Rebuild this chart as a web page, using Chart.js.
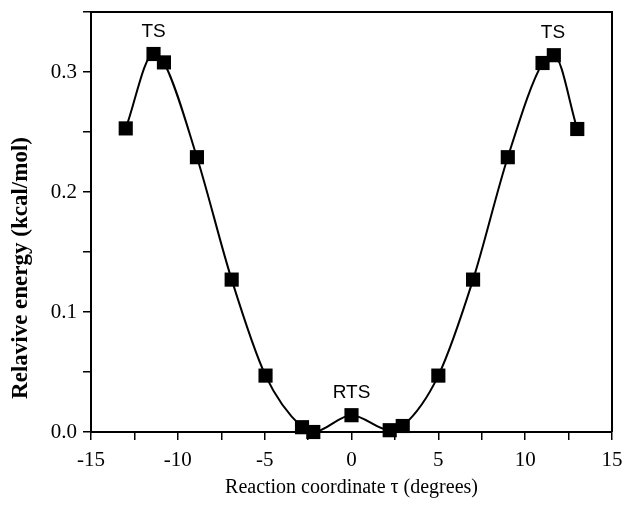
<!DOCTYPE html>
<html>
<head>
<meta charset="utf-8">
<script src="https://cdn.jsdelivr.net/npm/chart.js@4/dist/chart.umd.min.js"></script>
<style>
  html, body { margin: 0; padding: 0; background: #fff; }
  canvas { display: block; }
</style>
</head>
<body>
<canvas id="c" width="625" height="507"></canvas>
<script>
// Data
const tau = [-13.0, -11.4, -10.8, -8.9, -6.9, -4.95, -2.85, -2.2, 0.0, 2.2, 2.95, 5.0, 7.0, 9.0, 11.0, 11.65, 13.0];
const energy = [0.253, 0.315, 0.308, 0.229, 0.127, 0.047, 0.004, 0.0, 0.014, 0.0015, 0.005, 0.047, 0.127, 0.229, 0.3075, 0.314, 0.2525];
const labelText = ['TS', 'RTS', 'TS'];
const labelX = [-11.4, 0.0, 11.6];
const labelY = [0.315, 0.014, 0.314];
const xTickValues = [-15, -10, -5, 0, 5, 10, 15];
const yTickValues = [0.0, 0.1, 0.2, 0.3];
const xTitle = 'Reaction coordinate τ (degrees)';
const yTitle = 'Relavive energy (kcal/mol)';

const serif = "'Liberation Serif', 'Times New Roman', serif";
const sans = "'Liberation Sans', Arial, sans-serif";

function zeroPad(s) {
  s.paddingTop = 0; s.paddingBottom = 0; s.paddingLeft = 0; s.paddingRight = 0;
}

const boxPlugin = {
  id: 'box',
  afterDraw(chart) {
    const {ctx, chartArea: a} = chart;
    ctx.save();
    ctx.strokeStyle = '#000';
    ctx.lineWidth = 2;
    ctx.beginPath();
    ctx.moveTo(a.left, a.top);
    ctx.lineTo(a.right, a.top);
    ctx.lineTo(a.right, a.bottom);
    ctx.stroke();
    ctx.restore();
  }
};

// y-axis title, placed slightly below the plot centre as in the reference
const yTitlePlugin = {
  id: 'yTitle',
  afterDraw(chart) {
    const {ctx, chartArea: a} = chart;
    ctx.save();
    ctx.fillStyle = '#000';
    ctx.font = "bold 23px " + serif;
    ctx.textAlign = 'center';
    ctx.textBaseline = 'middle';
    ctx.translate(21, (a.top + a.bottom) / 2 + 46);
    ctx.rotate(-Math.PI / 2);
    ctx.fillText(yTitle, 0, 0);
    ctx.restore();
  }
};

const labelPlugin = {
  id: 'pointLabels',
  afterDatasetsDraw(chart) {
    const {ctx, scales: {x, y}} = chart;
    ctx.save();
    ctx.fillStyle = '#000';
    ctx.font = "19px " + sans;
    ctx.textAlign = 'center';
    ctx.textBaseline = 'middle';
    labelText.forEach((t, i) => {
      ctx.fillText(t, x.getPixelForValue(labelX[i]), y.getPixelForValue(labelY[i]) - 22);
    });
    ctx.restore();
  }
};

new Chart(document.getElementById('c'), {
  type: 'line',
  data: {
    datasets: [{
      data: tau.map((t, i) => ({x: t, y: energy[i]})),
      borderColor: '#000',
      backgroundColor: '#000',
      borderWidth: 2,
      cubicInterpolationMode: 'monotone',
      pointStyle: 'rect',
      pointRadius: 10,
      pointHoverRadius: 10,
      pointBackgroundColor: '#000',
      pointBorderColor: '#000',
      pointBorderWidth: 0,
      clip: false
    }]
  },
  plugins: [boxPlugin, yTitlePlugin, labelPlugin],
  options: {
    responsive: false,
    animation: false,
    events: [],
    layout: { padding: { top: 12, right: 13, left: 0, bottom: 0 } },
    plugins: { legend: { display: false }, tooltip: { enabled: false } },
    scales: {
      x: {
        type: 'linear',
        min: -15, max: 15,
        afterFit: s => { s.height = 75; zeroPad(s); },
        ticks: {
          stepSize: 2.5,
          autoSkip: false,
          maxRotation: 0,
          color: '#000',
          padding: 8,
          font: { family: serif, size: 21 },
          callback: v => xTickValues.includes(v) ? String(v) : ''
        },
        grid: { drawOnChartArea: false, drawTicks: true, tickLength: 8, color: '#000', lineWidth: 1.5 },
        border: { display: true, color: '#000', width: 2 },
        title: {
          display: true,
          text: xTitle,
          color: '#000',
          font: { family: serif, size: 20 },
          padding: { top: 0, bottom: 7 }
        }
      },
      y: {
        type: 'linear',
        min: 0, max: 0.35,
        afterFit: s => { s.width = 91; zeroPad(s); },
        ticks: {
          stepSize: 0.05,
          autoSkip: false,
          color: '#000',
          padding: 6,
          font: { family: serif, size: 21 },
          callback: v => yTickValues.some(t => Math.abs(t - v) < 1e-9) ? v.toFixed(1) : ''
        },
        grid: { drawOnChartArea: false, drawTicks: true, tickLength: 8, color: '#000', lineWidth: 1.5 },
        border: { display: true, color: '#000', width: 2 },
        title: { display: false, text: yTitle }
      }
    }
  }
});
</script>
</body>
</html>
